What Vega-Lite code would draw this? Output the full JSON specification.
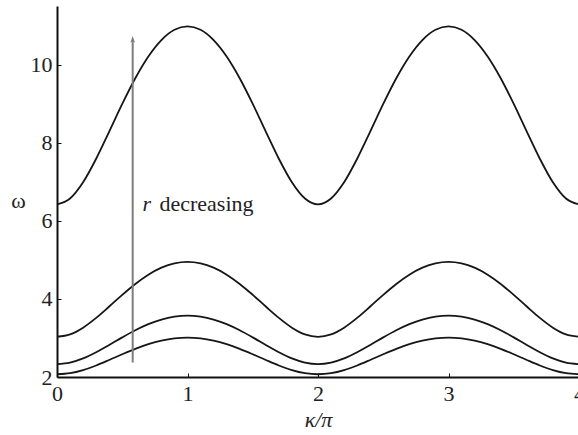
{
  "$schema": "https://vega.github.io/schema/vega-lite/v6.json",
  "width": 522,
  "height": 371,
  "autosize": {"type": "none"},
  "padding": {"left": 57, "top": 6, "right": 0, "bottom": 58},
  "background": "white",
  "config": {
    "view": {"stroke": null},
    "font": "'Liberation Serif', 'DejaVu Serif', serif",
    "text": {"font": "'Liberation Serif', 'DejaVu Serif', serif"},
    "axis": {
      "grid": false,
      "domainColor": "#111111",
      "domainWidth": 2,
      "tickColor": "#111111",
      "tickWidth": 1,
      "tickSize": -4,
      "labelFont": "'Liberation Serif', 'DejaVu Serif', serif",
      "labelFontSize": 22,
      "labelColor": "#222222",
      "titleFont": "'Liberation Serif', 'DejaVu Serif', serif",
      "titleFontSize": 22,
      "titleFontWeight": "normal",
      "titleColor": "#222222"
    }
  },
  "datasets": {
    "bands": [
      {"k": 0.0, "a": 6.42, "b": 3.03, "c": 2.33, "d": 2.07},
      {"k": 0.1, "a": 6.570, "b": 3.091, "c": 2.368, "d": 2.098},
      {"k": 0.2, "a": 6.986, "b": 3.263, "c": 2.475, "d": 2.177},
      {"k": 0.3, "a": 7.588, "b": 3.513, "c": 2.634, "d": 2.295},
      {"k": 0.4, "a": 8.284, "b": 3.804, "c": 2.821, "d": 2.436},
      {"k": 0.5, "a": 8.994, "b": 4.104, "c": 3.014, "d": 2.583},
      {"k": 0.6, "a": 9.651, "b": 4.383, "c": 3.196, "d": 2.722},
      {"k": 0.7, "a": 10.208, "b": 4.620, "c": 3.352, "d": 2.842},
      {"k": 0.8, "a": 10.629, "b": 4.800, "c": 3.471, "d": 2.933},
      {"k": 0.9, "a": 10.891, "b": 4.912, "c": 3.545, "d": 2.990},
      {"k": 1.0, "a": 10.98, "b": 4.95, "c": 3.57, "d": 3.01},
      {"k": 1.1, "a": 10.891, "b": 4.912, "c": 3.545, "d": 2.990},
      {"k": 1.2, "a": 10.629, "b": 4.800, "c": 3.471, "d": 2.933},
      {"k": 1.3, "a": 10.208, "b": 4.620, "c": 3.352, "d": 2.842},
      {"k": 1.4, "a": 9.651, "b": 4.383, "c": 3.196, "d": 2.722},
      {"k": 1.5, "a": 8.994, "b": 4.104, "c": 3.014, "d": 2.583},
      {"k": 1.6, "a": 8.284, "b": 3.804, "c": 2.821, "d": 2.436},
      {"k": 1.7, "a": 7.588, "b": 3.513, "c": 2.634, "d": 2.295},
      {"k": 1.8, "a": 6.986, "b": 3.263, "c": 2.475, "d": 2.177},
      {"k": 1.9, "a": 6.570, "b": 3.091, "c": 2.368, "d": 2.098},
      {"k": 2.0, "a": 6.42, "b": 3.03, "c": 2.33, "d": 2.07},
      {"k": 2.1, "a": 6.570, "b": 3.091, "c": 2.368, "d": 2.098},
      {"k": 2.2, "a": 6.986, "b": 3.263, "c": 2.475, "d": 2.177},
      {"k": 2.3, "a": 7.588, "b": 3.513, "c": 2.634, "d": 2.295},
      {"k": 2.4, "a": 8.284, "b": 3.804, "c": 2.821, "d": 2.436},
      {"k": 2.5, "a": 8.994, "b": 4.104, "c": 3.014, "d": 2.583},
      {"k": 2.6, "a": 9.651, "b": 4.383, "c": 3.196, "d": 2.722},
      {"k": 2.7, "a": 10.208, "b": 4.620, "c": 3.352, "d": 2.842},
      {"k": 2.8, "a": 10.629, "b": 4.800, "c": 3.471, "d": 2.933},
      {"k": 2.9, "a": 10.891, "b": 4.912, "c": 3.545, "d": 2.990},
      {"k": 3.0, "a": 10.98, "b": 4.95, "c": 3.57, "d": 3.01},
      {"k": 3.1, "a": 10.891, "b": 4.912, "c": 3.545, "d": 2.990},
      {"k": 3.2, "a": 10.629, "b": 4.800, "c": 3.471, "d": 2.933},
      {"k": 3.3, "a": 10.208, "b": 4.620, "c": 3.352, "d": 2.842},
      {"k": 3.4, "a": 9.651, "b": 4.383, "c": 3.196, "d": 2.722},
      {"k": 3.5, "a": 8.994, "b": 4.104, "c": 3.014, "d": 2.583},
      {"k": 3.6, "a": 8.284, "b": 3.804, "c": 2.821, "d": 2.436},
      {"k": 3.7, "a": 7.588, "b": 3.513, "c": 2.634, "d": 2.295},
      {"k": 3.8, "a": 6.986, "b": 3.263, "c": 2.475, "d": 2.177},
      {"k": 3.9, "a": 6.570, "b": 3.091, "c": 2.368, "d": 2.098},
      {"k": 4.0, "a": 6.42, "b": 3.03, "c": 2.33, "d": 2.07}
    ],
    "arrow": [{"k": 0.58, "w1": 2.37, "w2": 10.6, "tip": 10.65}],
    "symbol": [{"k": 0.655, "w": 6.24, "t": "r"}],
    "phrase": [{"k": 0.785, "w": 6.24, "t": "decreasing"}]
  },
  "layer": [
    {
      "data": {"name": "bands"},
      "transform": [{"fold": ["a", "b", "c", "d"], "as": ["band", "omega"]}],
      "mark": {"type": "line", "interpolate": "monotone", "color": "#161616", "strokeWidth": 1.8, "clip": true},
      "encoding": {
        "x": {
          "field": "k", "type": "quantitative",
          "scale": {"domain": [0, 4], "nice": false, "zero": false},
          "axis": {
            "values": [0, 1, 2, 3, 4], "format": "d",
            "title": "κ/π", "titleFontStyle": "italic",
            "labelPadding": 10, "titleY": 49, "titleBaseline": "alphabetic",
            "labelFlush": false
          }
        },
        "y": {
          "field": "omega", "type": "quantitative",
          "scale": {"domain": [2, 11.5], "nice": false, "zero": false},
          "axis": {
            "values": [2, 4, 6, 8, 10], "format": "d",
            "title": "ω", "titleAngle": 0, "titleX": -39, "titleY": 194,
            "titleAlign": "center", "titleBaseline": "middle",
            "labelPadding": 9, "labelFlush": false
          }
        },
        "detail": {"field": "band"}
      }
    },
    {
      "data": {"name": "arrow"},
      "mark": {"type": "rule", "color": "#7d7d7d", "strokeWidth": 2},
      "encoding": {
        "x": {"field": "k", "type": "quantitative"},
        "y": {"field": "w1", "type": "quantitative"},
        "y2": {"field": "w2"}
      }
    },
    {
      "data": {"name": "arrow"},
      "mark": {
        "type": "point", "filled": true, "color": "#7d7d7d", "opacity": 1,
        "shape": "M0,-0.5L0.35,0.5L0,0.35L-0.35,0.5Z", "size": 169
      },
      "encoding": {
        "x": {"field": "k", "type": "quantitative"},
        "y": {"field": "tip", "type": "quantitative"}
      }
    },
    {
      "data": {"name": "symbol"},
      "mark": {"type": "text", "align": "left", "baseline": "alphabetic", "fontSize": 22, "fontStyle": "italic", "color": "#222222"},
      "encoding": {
        "x": {"field": "k", "type": "quantitative"},
        "y": {"field": "w", "type": "quantitative"},
        "text": {"field": "t"}
      }
    },
    {
      "data": {"name": "phrase"},
      "mark": {"type": "text", "align": "left", "baseline": "alphabetic", "fontSize": 22, "color": "#222222"},
      "encoding": {
        "x": {"field": "k", "type": "quantitative"},
        "y": {"field": "w", "type": "quantitative"},
        "text": {"field": "t"}
      }
    }
  ]
}
